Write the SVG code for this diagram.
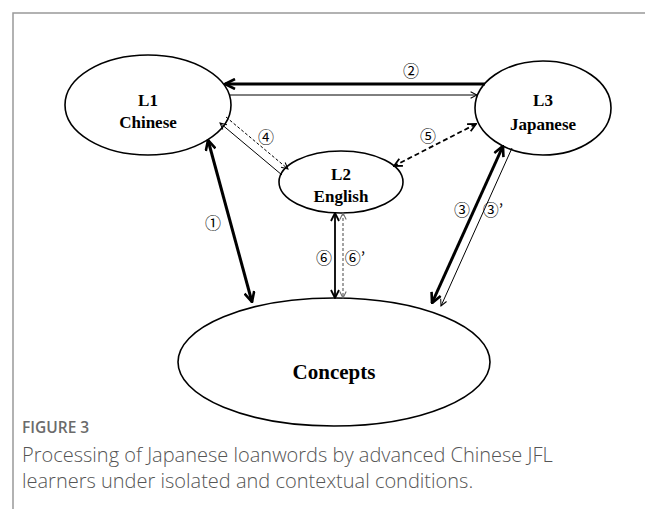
<svg xmlns="http://www.w3.org/2000/svg" width="645" height="509" viewBox="0 0 645 509">
<style>
.node ellipse{fill:#fff;stroke:#000;stroke-width:1.6}
.nt{font-family:"Liberation Serif","Times New Roman",serif;font-weight:bold;font-size:17px;text-anchor:middle;fill:#000}
.num{font-family:"Noto Sans CJK JP","DejaVu Sans",sans-serif;font-size:16px;text-anchor:middle;fill:#000}
.thick{stroke:#000;stroke-width:3;fill:none}
.thin{stroke:#000;stroke-width:1;fill:none}
.med{stroke:#000;stroke-width:1.8;fill:none}
.dash{stroke:#000;stroke-width:1;fill:none;stroke-dasharray:3,2}
.dashm{stroke:#000;stroke-width:1.8;fill:none;stroke-dasharray:5,3}
.dashg{stroke:#666;stroke-width:1.2;fill:none;stroke-dasharray:3,2}
.cap1{font-family:"Open Sans","Liberation Sans",sans-serif;font-size:15.5px;font-weight:600;fill:#6b6b6b}
.cap2{font-family:"Open Sans","Liberation Sans",sans-serif;font-size:20px;font-weight:300;fill:#555}
</style>
<defs>
<marker id="hb" viewBox="0 0 12 12" refX="11" refY="6" markerWidth="12" markerHeight="12" markerUnits="userSpaceOnUse" orient="auto-start-reverse"><path d="M1,1 L11,6 L1,11" fill="none" stroke="#000" stroke-width="2.6"/></marker>
<marker id="hs" viewBox="0 0 10 10" refX="9" refY="5" markerWidth="8" markerHeight="8" markerUnits="userSpaceOnUse" orient="auto-start-reverse"><path d="M1,1 L9,5 L1,9" fill="none" stroke="#000" stroke-width="1.3"/></marker>
<marker id="hm" viewBox="0 0 10 10" refX="9" refY="5" markerWidth="10" markerHeight="10" markerUnits="userSpaceOnUse" orient="auto-start-reverse"><path d="M1,1 L9,5 L1,9" fill="none" stroke="#000" stroke-width="1.8"/></marker>
<marker id="hg" viewBox="0 0 10 10" refX="9" refY="5" markerWidth="8" markerHeight="8" markerUnits="userSpaceOnUse" orient="auto-start-reverse"><path d="M1,1 L9,5 L1,9" fill="none" stroke="#666" stroke-width="1.3"/></marker>
</defs>
<path d="M13,509 V13 H645" fill="none" stroke="#999" stroke-width="1.5"/>
<g id="n-l1" class="node"><ellipse cx="148" cy="105" rx="83" ry="50"/><text class="nt" x="148" y="106">L1</text><text class="nt" x="148" y="128">Chinese</text></g>
<g id="n-l3" class="node"><ellipse cx="543" cy="108" rx="68" ry="47"/><text class="nt" x="543" y="106">L3</text><text class="nt" x="543" y="130">Japanese</text></g>
<g id="n-l2" class="node"><ellipse cx="341" cy="182" rx="62" ry="31"/><text class="nt" x="341" y="180">L2</text><text class="nt" x="341" y="202">English</text></g>
<g id="n-concepts" class="node"><ellipse cx="334" cy="362" rx="156" ry="64"/><text class="nt" x="334" y="379" style="font-size:21px">Concepts</text></g>
<g id="connectors">
<line class="thick" x1="485" y1="84" x2="225" y2="84" marker-end="url(#hb)"/>
<line class="thin" x1="230" y1="95" x2="477" y2="95" marker-end="url(#hs)"/>
<line class="thin" x1="282" y1="175" x2="220" y2="123" marker-end="url(#hs)"/>
<line class="dash" x1="226" y1="117" x2="288" y2="169" marker-end="url(#hs)"/>
<line class="dashm" x1="476" y1="124" x2="394" y2="166" marker-start="url(#hm)" marker-end="url(#hm)"/>
<line class="thick" x1="208" y1="140" x2="252" y2="302" marker-start="url(#hb)" marker-end="url(#hb)"/>
<line class="thick" x1="503" y1="146" x2="432" y2="303" marker-start="url(#hb)" marker-end="url(#hb)"/>
<line class="thin" x1="512" y1="148" x2="441" y2="306" marker-end="url(#hs)"/>
<line class="med" x1="335" y1="213" x2="335" y2="298" marker-start="url(#hm)" marker-end="url(#hm)"/>
<line class="dashg" x1="343" y1="213" x2="343" y2="298" marker-start="url(#hg)" marker-end="url(#hg)"/>
</g>
<g id="labels">
<text class="num" x="411" y="77">②</text>
<text class="num" x="266" y="143">④</text>
<text class="num" x="428" y="142">⑤</text>
<text class="num" x="213" y="229">①</text>
<text class="num" x="324" y="264">⑥</text>
<text class="num" x="355" y="264">⑥’</text>
<text class="num" x="462" y="216">③</text>
<text class="num" x="493" y="216">③’</text>
</g>
<text class="cap1" x="22" y="433">FIGURE 3</text>
<text class="cap2" x="22" y="462">Processing of Japanese loanwords by advanced Chinese JFL</text>
<text class="cap2" x="22" y="488">learners under isolated and contextual conditions.</text>
</svg>
